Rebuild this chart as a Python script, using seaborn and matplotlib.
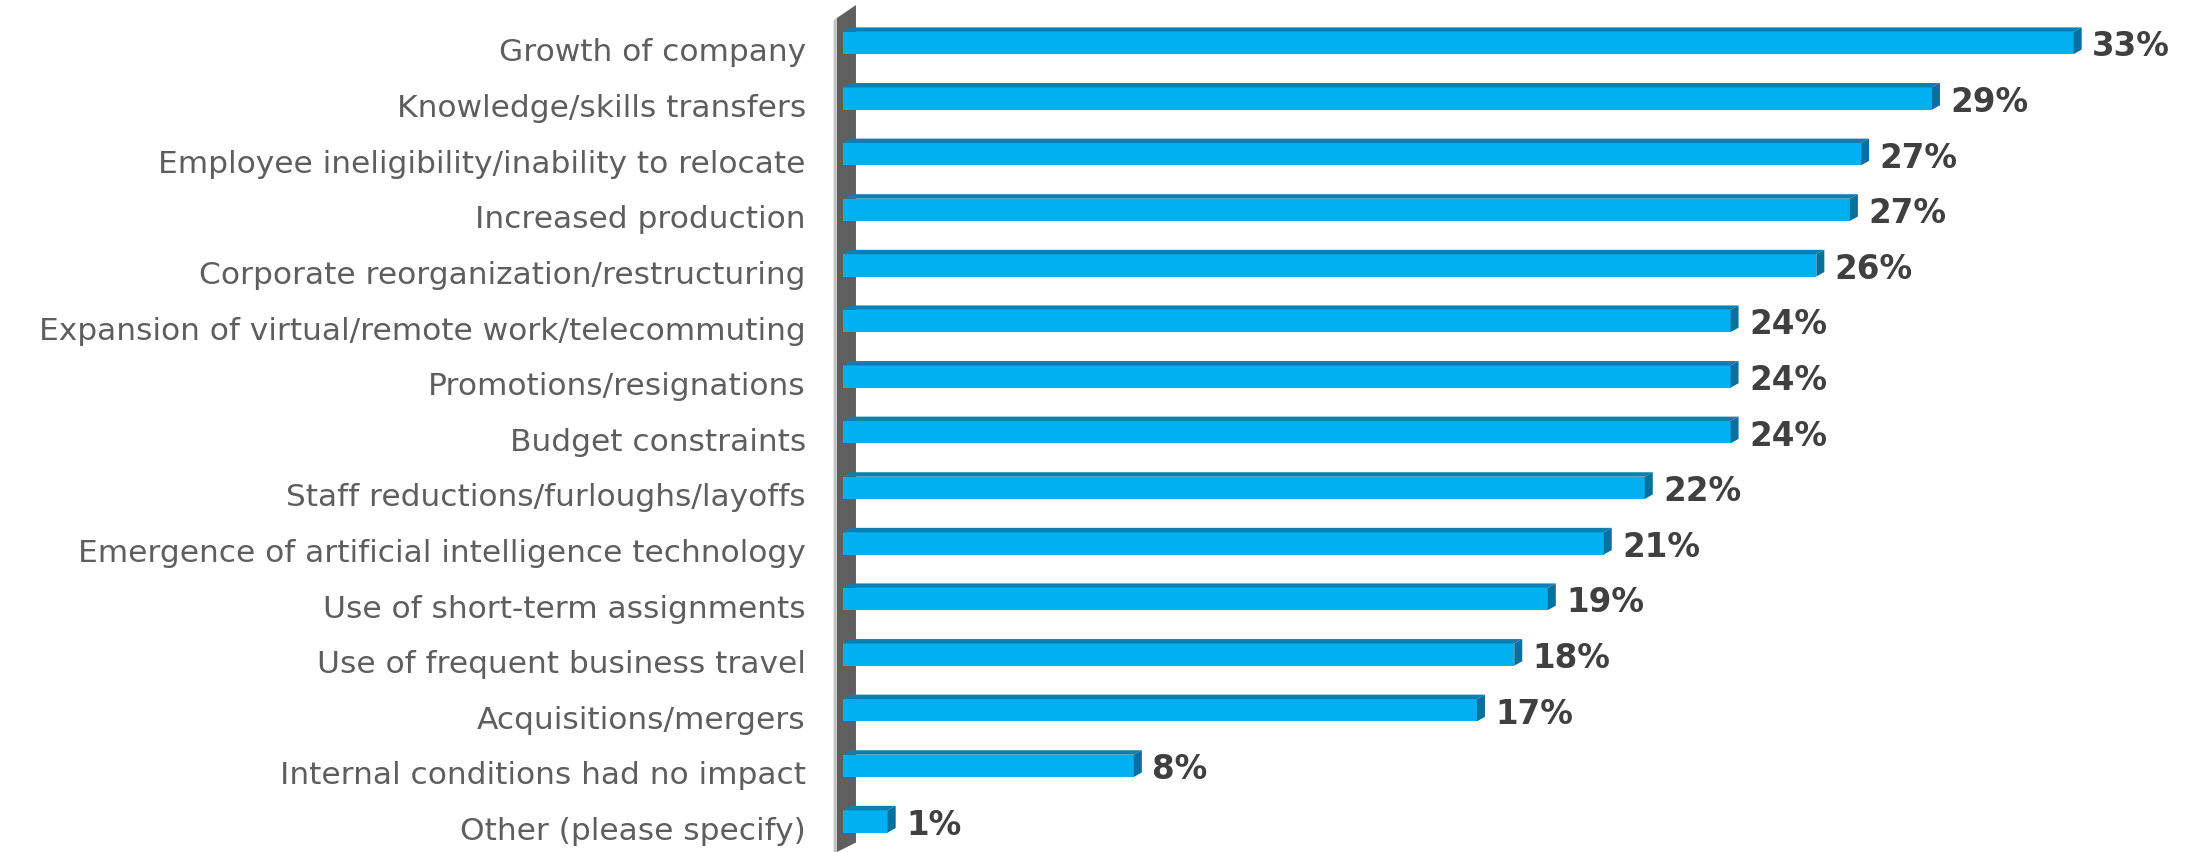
"""
Internal conditions driving workforce change - 3D-style horizontal bar chart
"""
import matplotlib
matplotlib.use("Agg")
import matplotlib.pyplot as plt
from matplotlib.patches import Polygon
import seaborn as sns
import pandas as pd

# Data
reasons = [
    "Growth of company",
    "Knowledge/skills transfers",
    "Employee ineligibility/inability to relocate",
    "Increased production",
    "Corporate reorganization/restructuring",
    "Expansion of virtual/remote work/telecommuting",
    "Promotions/resignations",
    "Budget constraints",
    "Staff reductions/furloughs/layoffs",
    "Emergence of artificial intelligence technology",
    "Use of short-term assignments",
    "Use of frequent business travel",
    "Acquisitions/mergers",
    "Internal conditions had no impact",
    "Other (please specify)",
]
bar_pct = [33.0, 29.2, 27.3, 27.0, 26.1, 23.8, 23.8, 23.8, 21.5, 20.4,
           18.9, 18.0, 17.0, 7.8, 1.2]
value_labels = ["33%", "29%", "27%", "27%", "26%", "24%", "24%", "24%",
                "22%", "21%", "19%", "18%", "17%", "8%", "1%"]

FRONT = "#00B0F0"
TOP = "#0C7EAF"
SIDE = "#07709E"
LABEL_GRAY = "#5E5E5E"
VALUE_GRAY = "#404040"

sns.set_style("white")
plt.rcParams['font.family'] = ['DejaVu Sans']

df = pd.DataFrame({'reason': reasons, 'pct': bar_pct})

fig = plt.figure(figsize=(21.93, 8.52), dpi=100)
ax = fig.add_axes([828 / 2193, 0.0, 1 - 828 / 2193, 1.0])

bar_h = 0.40
yoff = 0.054   # nudge labels up a touch
shift = 0.18 - yoff   # bars sit slightly above the label line (3D perspective)
dx, dy = 0.215, 0.08  # depth of the fake 3D extrusion in data units

sns.barplot(data=df, x='pct', y='reason', orient='h', color=FRONT,
            saturation=1, width=bar_h, errorbar=None, linewidth=0,
            ax=ax, zorder=3)

y_bot, y_top = 14.37 + yoff, -0.953 + yoff
ax.set_xlim(-0.4, 36.2)
ax.set_ylim(y_bot, y_top)

# back wall on the left
wall_dark = Polygon([(-0.16, y_bot), (-0.16, -0.63 + yoff), (0.35, -0.863 + yoff),
                     (0.35, 14.2 + yoff)],
                    closed=True, facecolor="#5F5F5F", edgecolor="none", zorder=1)
wall_light = Polygon([(-0.25, y_bot), (-0.25, -0.59 + yoff), (-0.16, -0.63 + yoff),
                      (-0.16, y_bot)],
                     closed=True, facecolor="#C4C4C4", edgecolor="none", zorder=1)
ax.add_patch(wall_dark)
ax.add_patch(wall_light)

for p, lab in zip(ax.patches[:len(reasons)], value_labels):
    p.set_y(p.get_y() - shift)
    x0 = p.get_x()
    x1 = x0 + p.get_width()
    yt = p.get_y()               # top edge (axis inverted)
    yb = yt + p.get_height()     # bottom edge
    top = Polygon([(x0, yt), (x0 + dx, yt - dy), (x1 + dx, yt - dy), (x1, yt)],
                  closed=True, facecolor=TOP, edgecolor="none", zorder=3)
    side = Polygon([(x1, yt), (x1 + dx, yt - dy), (x1 + dx, yb - dy), (x1, yb)],
                   closed=True, facecolor=SIDE, edgecolor="none", zorder=3)
    ax.add_patch(top)
    ax.add_patch(side)
    ax.text(x1 + dx + 0.28, (yt + yb) / 2 + 0.07, lab, ha='left', va='center',
            fontsize=23.5, fontweight='bold', color=VALUE_GRAY)

ax.set_xlabel("")
ax.set_ylabel("")
ax.set_xticks([])
ax.tick_params(axis='y', length=0, pad=16, labelsize=22.5, labelcolor=LABEL_GRAY)
sns.despine(ax=ax, left=True, bottom=True)

fig.savefig("out.png", dpi=100)
